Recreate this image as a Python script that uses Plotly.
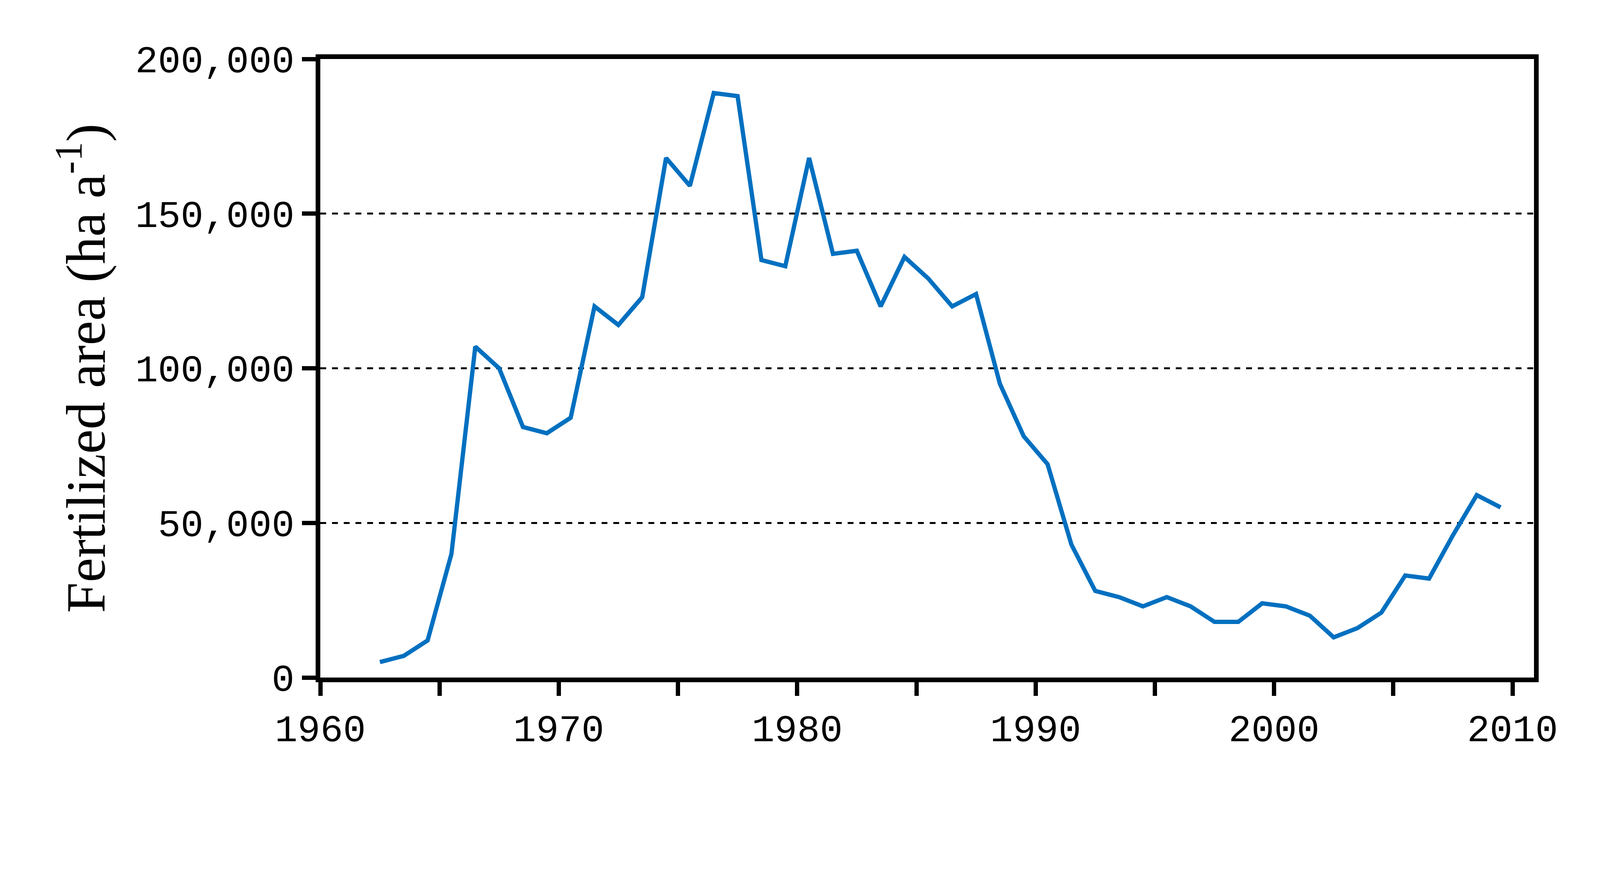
import plotly.graph_objects as go

years = [1962.5 + i for i in range(48)]
area = [5000, 7000, 12000, 40000, 107000, 100000, 81000, 79000, 84000, 120000,
        114000, 123000, 168000, 159000, 189000, 188000, 135000, 133000, 168000, 137000,
        138000, 120000, 136000, 129000, 120000, 124000, 95000, 78000, 69000, 43000,
        28000, 26000, 23000, 26000, 23000, 18000, 18000, 24000, 23000, 20000,
        13000, 16000, 21000, 33000, 32000, 46000, 59000, 55000]
xticks = list(range(1960, 2011, 5))
xlabels = [str(t) if t % 10 == 0 else "" for t in xticks]
yticks = [0, 50000, 100000, 150000, 200000]
ylabels = ["0", "50,000", "100,000", "150,000", "200,000"]

fig = go.Figure(go.Scatter(x=years, y=area, mode="lines",
                           line=dict(color="#0070C0", width=11)))
fig.update_layout(
    width=4070, height=2015, plot_bgcolor="white", paper_bgcolor="white",
    margin=dict(l=812, r=151, t=143, b=289), showlegend=False,
    font=dict(family="Liberation Mono", size=97, color="black"),
)
fig.update_xaxes(range=[1960, 2010.9], tickvals=xticks, ticktext=xlabels,
                 showline=True, linewidth=12, linecolor="black", mirror=True,
                 ticks="outside", ticklen=35, tickwidth=11, tickcolor="black",
                 showgrid=False, zeroline=False)
fig.update_yaxes(range=[0, 200000], tickvals=yticks, ticktext=ylabels,
                 showline=True, linewidth=12, linecolor="black", mirror=True,
                 ticks="outside", ticklen=35, tickwidth=11, tickcolor="black",
                 showgrid=True, gridcolor="black", gridwidth=5, griddash="dash",
                 zeroline=False,
                 title=dict(text="Fertilized area (ha a<sup>-1</sup>)",
                            font=dict(family="Liberation Serif", size=141), standoff=35))
fig.write_html("out.html")
